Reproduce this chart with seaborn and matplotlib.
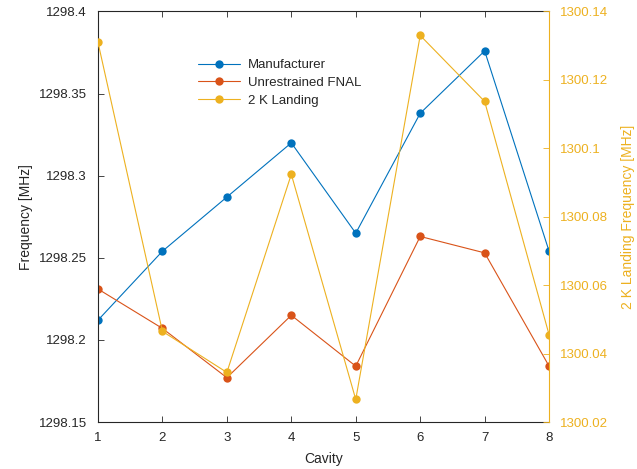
import matplotlib
matplotlib.use("Agg")
import matplotlib.pyplot as plt
import pandas as pd
import seaborn as sns

# values
cavity = [1, 2, 3, 4, 5, 6, 7, 8]
manufacturer = [1298.212, 1298.254, 1298.287, 1298.320, 1298.265, 1298.338, 1298.376, 1298.254]
unrestrained_fnal = [1298.231, 1298.207, 1298.177, 1298.215, 1298.184, 1298.263, 1298.253, 1298.184]
landing_2k = [1300.131, 1300.0465, 1300.0345, 1300.0924, 1300.0266, 1300.133, 1300.1137, 1300.0455]

left_ticks = [1298.15, 1298.2, 1298.25, 1298.3, 1298.35, 1298.4]
left_ticklabels = ["1298.15", "1298.2", "1298.25", "1298.3", "1298.35", "1298.4"]
right_ticks = [1300.02, 1300.04, 1300.06, 1300.08, 1300.1, 1300.12, 1300.14]
right_ticklabels = ["1300.02", "1300.04", "1300.06", "1300.08", "1300.1", "1300.12", "1300.14"]

BLUE = "#0072BD"
RED = "#D95319"
YELLOW = "#EDB120"
DARK = "#262626"

sns.set_style("white")
plt.rcParams["font.family"] = ["Liberation Sans", "DejaVu Sans"]
plt.rcParams["font.size"] = 9.5

left_df = pd.DataFrame(
    {
        "Cavity": cavity * 2,
        "Frequency": manufacturer + unrestrained_fnal,
        "Series": ["Manufacturer"] * 8 + ["Unrestrained FNAL"] * 8,
    }
)
right_df = pd.DataFrame({"Cavity": cavity, "Frequency": landing_2k})

fig = plt.figure(figsize=(6.37, 4.69), dpi=100)
ax = fig.add_axes([0.1538, 0.1002, 0.862 - 0.1538, 0.9755 - 0.1002])
ax2 = ax.twinx()

line_kw = dict(marker="o", markersize=6, linewidth=0.8, markeredgewidth=0)
sns.lineplot(
    data=left_df,
    x="Cavity",
    y="Frequency",
    hue="Series",
    palette=[BLUE, RED],
    ax=ax,
    legend=False,
    **line_kw,
)
sns.lineplot(data=right_df, x="Cavity", y="Frequency", color=YELLOW, ax=ax2, legend=False, **line_kw)

ax.set_xlim(1, 8)
ax.set_ylim(1298.15, 1298.4)
ax2.set_ylim(1300.02, 1300.14)
ax.set_xticks(cavity)
ax.set_yticks(left_ticks)
ax.set_yticklabels(left_ticklabels)
ax2.set_yticks(right_ticks)
ax2.set_yticklabels(right_ticklabels)

ax.set_xlabel("Cavity", color=DARK, fontsize=10, labelpad=6)
ax.set_ylabel("Frequency [MHz]", color=DARK, fontsize=10, labelpad=4)
ax2.set_ylabel("2 K Landing Frequency [MHz]", color=YELLOW, fontsize=10, labelpad=9)

for spine in ["left", "bottom", "top"]:
    ax.spines[spine].set_color(DARK)
    ax.spines[spine].set_linewidth(0.8)
ax.spines["right"].set_visible(False)
for spine in ["left", "bottom", "top"]:
    ax2.spines[spine].set_visible(False)
ax2.spines["right"].set_color(YELLOW)
ax2.spines["right"].set_linewidth(0.8)

ax.tick_params(axis="both", direction="in", length=4, width=0.6, colors=DARK, labelcolor=DARK)
ax.tick_params(axis="x", top=True, bottom=True, pad=7)
ax.tick_params(axis="y", left=True, right=False, pad=8)
ax2.tick_params(axis="y", direction="in", length=4, width=0.6, colors=YELLOW, labelcolor=YELLOW, right=True, pad=8)

handles = ax.get_lines()[:2] + ax2.get_lines()[:1]
labels = ["Manufacturer", "Unrestrained FNAL", "2 K Landing"]
ax2.legend(
    handles,
    labels,
    loc="upper left",
    bbox_to_anchor=(0.195, 0.913),
    frameon=False,
    fontsize=9.5,
    handlelength=3.2,
    handletextpad=0.6,
    labelspacing=0.42,
)

fig.savefig("out.png", dpi=100)
